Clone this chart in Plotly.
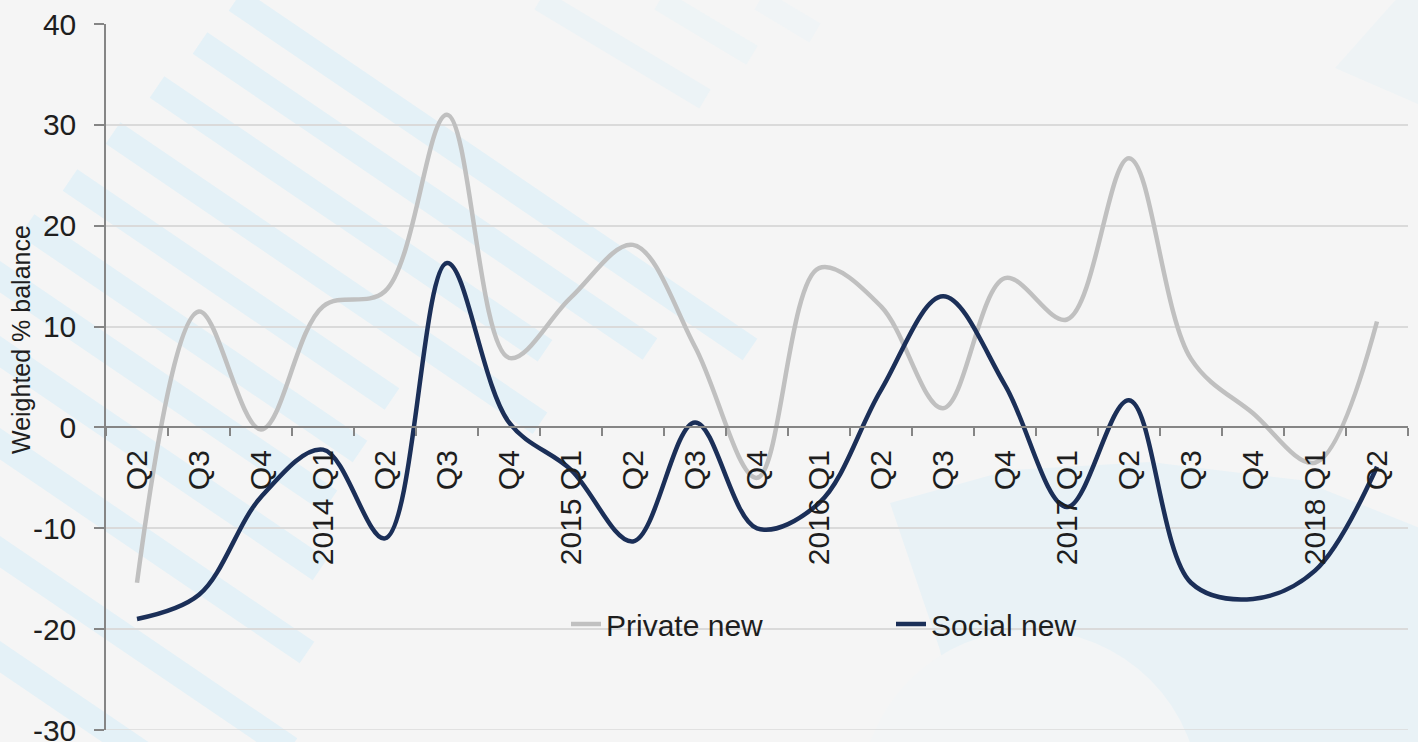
import math
import plotly.graph_objects as go

# Survey quarters, Q2 2013 to Q2 2018
quarters = ["Q2", "Q3", "Q4", "2014 Q1", "Q2", "Q3", "Q4", "2015 Q1", "Q2", "Q3", "Q4",
            "2016 Q1", "Q2", "Q3", "Q4", "2017 Q1", "Q2", "Q3", "Q4", "2018 Q1", "Q2"]

# Weighted % balance by sector
private_new = [-15.4, 11.5, -0.2, 12.0, 13.5, 31.0, 6.9, 12.9, 18.1, 8.0, -5.0,
               15.8, 12.0, 1.9, 14.8, 10.7, 26.7, 6.8, 1.4, -3.5, 10.5]
social_new = [-19.0, -16.6, -6.9, -2.2, -11.0, 16.3, 0.5, -4.2, -11.3, 0.5, -10.0,
              -7.5, 3.7, 13.0, 4.2, -7.9, 2.7, -15.4, -17.0, -14.2, -3.9]

y_ticks = [-30, -20, -10, 0, 10, 20, 30, 40]
y_tick_text = ["-30", "-20", "-10", "0", "10", "20", "30", "40"]

W, H = 1418, 742
L, R, T, B = 106, 10, 24, 12
PW, PH = W - L - R, H - T - B

FONT = "Liberation Sans, Arial, sans-serif"
TEXT = "#1e1e1e"
AXIS = "#858585"
GRID = "#dadada"


def paper(x, y):
    """Pixel position on the page -> paper coordinates."""
    return (x - L) / PW, (H - B - y) / PH


def path_from(points):
    pts = [paper(x, y) for x, y in points]
    return "M " + " L ".join(f"{a:.5f},{b:.5f}" for a, b in pts) + " Z"


def stripe(xs, ys, xe, half=13, slope=0.68):
    ye = ys + slope * (xe - xs)
    n = math.hypot(slope, 1)
    nx, ny = -slope / n * half, 1 / n * half
    pts = [(xs + nx, ys + ny), (xe + nx, ye + ny), (xe - nx, ye - ny), (xs - nx, ys - ny)]
    return path_from(pts)


deco = []
STRIPE = "#e4f1f7"
for xs, ys, xe in [(236, 0, 750), (200, 43, 650), (157, 87, 545), (113, 133, 540),
                   (70, 180, 392), (27, 225, 360), (-10, 270, 330), (-10, 345, 320),
                   (-10, 437, 307), (-10, 545, 290), (-10, 650, 230)]:
    deco.append(dict(type="path", path=stripe(xs, ys, xe), fillcolor=STRIPE,
                     line=dict(width=0), xref="paper", yref="paper", layer="below"))
for xs, ys, xe, c in [(540, 0, 705, "#ecf3f6"), (660, 0, 752, "#eef4f6"), (760, 0, 815, "#f0f4f6")]:
    deco.append(dict(type="path", path=stripe(xs, ys, xe, half=11, slope=0.6), fillcolor=c,
                     line=dict(width=0), xref="paper", yref="paper", layer="below"))

# faint donut watermark, lower right
deco.append(dict(type="path",
                 path=path_from([(890, 503), (1010, 470), (1150, 462), (1300, 480), (1425, 530),
                                 (1425, 750), (960, 750), (940, 650)]),
                 fillcolor="#e9f2f6", line=dict(width=0), xref="paper", yref="paper", layer="below"))
cx0, cy0 = paper(860, 630)
cx1, cy1 = paper(1200, 970)
deco.append(dict(type="circle", x0=cx0, y0=cy1, x1=cx1, y1=cy0, fillcolor="#f3f5f6",
                 line=dict(width=0), xref="paper", yref="paper", layer="below"))
deco.append(dict(type="path", path=path_from([(1335, 68), (1400, -5), (1425, -5), (1425, 107)]),
                 fillcolor="#eef3f5", line=dict(width=0), xref="paper", yref="paper", layer="below"))
# bottom gridline at the axis minimum
deco.append(dict(type="line", xref="paper", yref="y", x0=0, x1=1, y0=y_ticks[0], y1=y_ticks[0],
                 line=dict(color=GRID, width=1.5), layer="below"))

x_idx = list(range(len(quarters)))

fig = go.Figure()
fig.add_trace(go.Scatter(x=x_idx, y=private_new, name="Private new", mode="lines",
                         line=dict(color="#c0c0c0", width=4.5, shape="spline", smoothing=1.0)))
fig.add_trace(go.Scatter(x=x_idx, y=social_new, name="Social new", mode="lines",
                         line=dict(color="#1b2f58", width=4.5, shape="spline", smoothing=1.0)))

tx, ty = paper(21, 340)
fig.update_layout(
    width=W, height=H,
    margin=dict(l=L, r=R, t=T, b=B, pad=0, autoexpand=False),
    paper_bgcolor="#f5f5f5",
    plot_bgcolor="rgba(0,0,0,0)",
    font=dict(family=FONT, size=30, color=TEXT),
    shapes=deco,
    showlegend=True,
    legend=dict(orientation="h", x=paper(566, 0)[0], xanchor="left",
                y=paper(0, 624)[1], yanchor="middle",
                bgcolor="rgba(0,0,0,0)", font=dict(size=30, color=TEXT),
                entrywidth=280, entrywidthmode="pixels", itemclick=False),
    xaxis=dict(range=[-0.5, len(quarters) - 0.5], anchor="free", position=3 / 7,
               automargin=False,
               tickmode="array", tickvals=x_idx, ticktext=quarters, tickangle=-90,
               ticks="outside", ticklen=8, tickcolor="rgba(0,0,0,0)", ticklabelstandoff=2,
               showgrid=False, zeroline=False, showline=True, linecolor=AXIS, linewidth=1.5,
               tickfont=dict(size=30, color=TEXT),
               minor=dict(tickvals=[i - 0.5 for i in range(len(quarters) + 1)], ticks="outside",
                          ticklen=8, tickcolor=AXIS, tickwidth=1.5, showgrid=False)),
    yaxis=dict(range=[-30, 40], tickmode="array", tickvals=y_ticks, ticktext=y_tick_text,
               automargin=False,
               ticks="outside", ticklen=10, tickcolor=AXIS, tickwidth=1.5, ticklabelstandoff=12,
               ticklabeloverflow="allow",
               showgrid=True, gridcolor=GRID, gridwidth=1.5, zeroline=False,
               showline=True, linecolor=AXIS, linewidth=1.5, tickfont=dict(size=30, color=TEXT)),
    annotations=[dict(text="Weighted % balance", textangle=-90, x=tx, y=ty, xref="paper",
                      yref="paper", xanchor="center", yanchor="middle", showarrow=False,
                      font=dict(size=25, color=TEXT))],
)

fig.write_html("out.html")
